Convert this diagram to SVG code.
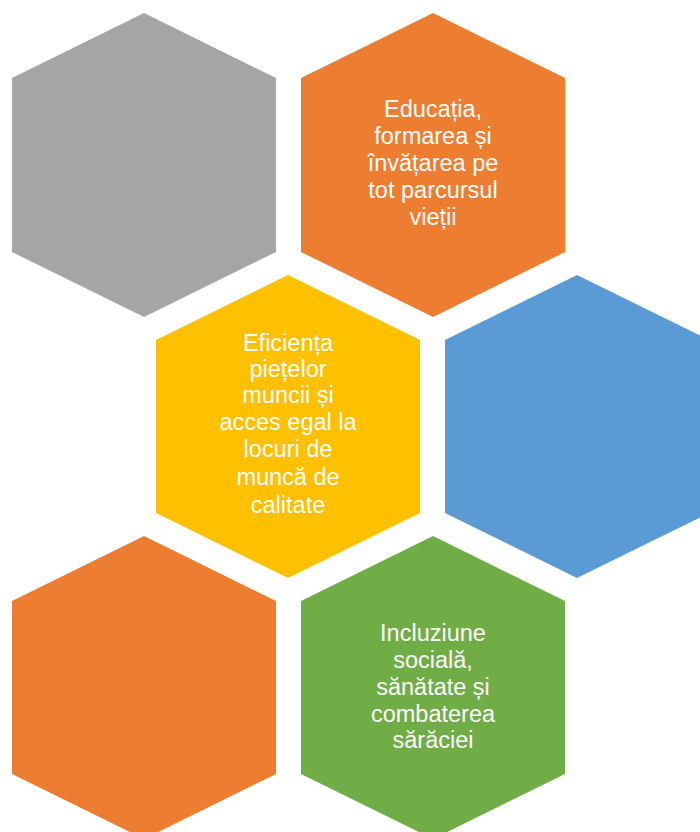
<svg xmlns="http://www.w3.org/2000/svg" width="700" height="832" viewBox="0 0 700 832">
<style>
.t{font-family:"Liberation Sans",Arial,sans-serif;font-size:23.5px;fill:#fff;text-anchor:middle}
</style>
<rect width="700" height="832" fill="#fff"/>
<g id="hex-gray"><polygon points="144,13 276,78 276,252 144,317 12,252 12,78" fill="#A5A5A5"/></g>
<g id="hex-educatia"><polygon points="433,13 565,78 565,252 433,317 301,252 301,78" fill="#ED7D31"/>
<text class="t" x="433" y="117">Educația,</text>
<text class="t" x="433" y="144">formarea și</text>
<text class="t" x="433" y="171">învățarea pe</text>
<text class="t" x="433" y="198">tot parcursul</text>
<text class="t" x="433" y="225">vieții</text></g>
<g id="hex-eficienta"><polygon points="288,275 420,340 420,513 288,578 156,513 156,340" fill="#FFC000"/>
<text class="t" x="288" y="351">Eficiența</text>
<text class="t" x="288" y="377">piețelor</text>
<text class="t" x="288" y="403">muncii și</text>
<text class="t" x="288" y="430">acces egal la</text>
<text class="t" x="288" y="457">locuri de</text>
<text class="t" x="288" y="485">muncă de</text>
<text class="t" x="288" y="513">calitate</text></g>
<g id="hex-blue"><polygon points="577,275 709,340 709,513 577,578 445,513 445,340" fill="#5B9BD5"/></g>
<g id="hex-orange2"><polygon points="144,536 276,601 276,774 144,839 12,774 12,601" fill="#ED7D31"/></g>
<g id="hex-incluziune"><polygon points="433,536 565,601 565,774 433,839 301,774 301,601" fill="#70AD47"/>
<text class="t" x="433" y="641">Incluziune</text>
<text class="t" x="433" y="668">socială,</text>
<text class="t" x="433" y="695">sănătate și</text>
<text class="t" x="433" y="722">combaterea</text>
<text class="t" x="433" y="748">sărăciei</text></g>
<g id="connectors"/>
</svg>
